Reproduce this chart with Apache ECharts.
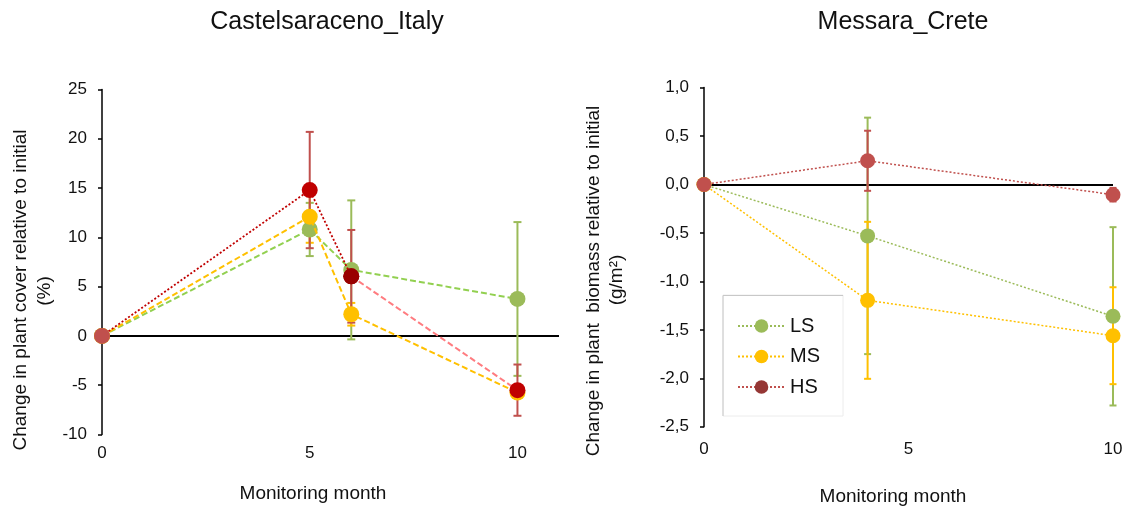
<!DOCTYPE html>
<html><head><meta charset="utf-8">
<script src="https://cdn.jsdelivr.net/npm/echarts@6/dist/echarts.min.js"></script>
<style>html,body{margin:0;padding:0;background:#fff}#c{width:1122px;height:508px}</style>
</head><body><div id="c"></div>
<script>
// ---------- data ----------
const coverMonths = [0, 5, 6, 10];
const coverLS = [0, 10.8, 6.7, 3.75];
const coverLSErr = [0, 2.7, 7.05, 7.8];
const coverMS = [0, 12.1, 2.2, -5.75];
const coverMSErr = [0, 2.65, 1.15, 0.4];
const coverHS = [0, 14.8, 6.05, -5.5];
const coverHSErr = [0, 5.9, 4.7, 2.6];

const biomassMonths = [0, 4, 10];
const biomassLS = [0, -0.53, -1.36];
const biomassLSErr = [0, 1.22, 0.92];
const biomassMS = [0, -1.195, -1.56];
const biomassMSErr = [0, 0.81, 0.5];
const biomassHS = [0, 0.245, -0.105];
const biomassHSErr = [0, 0.31, 0.07];

const xTickLabels = ['0', '5', '10'];
const seriesNames = ['LS', 'MS', 'HS'];
const titles = ['Castelsaraceno_Italy', 'Messara_Crete'];
const coverYName = ['Change in plant cover relative to initial', '(%)'];
const biomassYName = ['Change in plant  biomass relative to initial', '(g/m\u00B2)'];
const xName = 'Monitoring month';

// ---------- styles ----------
const FONT = '"Liberation Sans", Arial, sans-serif';
const TXT = '#111';
const C = { ls: '#9BBB59', lsLine: '#92D050', ms: '#FFC000', hs: '#C0504D',
  hsDark: '#C00000', hsDeep: '#990000', hsPink: '#FF7C80', hsLegend: '#953735' };
const hsCoverPointColors = [C.hs, C.hsDark, C.hsDeep, C.hsDark];

function pts(xs, ys) { return xs.map((x, i) => [x, ys[i]]); }
function errPts(xs, ys, es) {
  return xs.map((x, i) => [x, ys[i] - es[i], ys[i] + es[i]]).filter((d, i) => es[i] > 0);
}
function errSeries(gi, data, color, cap) {
  return {
    type: 'custom', xAxisIndex: gi, yAxisIndex: gi, data: data,
    encode: { x: 0, y: [1, 2] }, z: 1, silent: true, clip: false, animation: false,
    renderItem: function (params, api) {
      const x = api.value(0);
      const p1 = api.coord([x, api.value(2)]);
      const p2 = api.coord([x, api.value(1)]);
      const st = { stroke: color, lineWidth: 2 };
      return { type: 'group', children: [
        { type: 'line', shape: { x1: p1[0], y1: p1[1], x2: p2[0], y2: p2[1] }, style: st },
        { type: 'line', shape: { x1: p1[0] - cap, y1: p1[1], x2: p1[0] + cap, y2: p1[1] }, style: st },
        { type: 'line', shape: { x1: p2[0] - cap, y1: p2[1], x2: p2[0] + cap, y2: p2[1] }, style: st }
      ]};
    }
  };
}
function lineSeries(gi, name, data, lineColor, dash, width, markerColor, size, z) {
  return {
    type: 'line', name: name, xAxisIndex: gi, yAxisIndex: gi, data: data,
    symbol: 'circle', symbolSize: size, showSymbol: true, z: z, silent: true, animation: false,
    lineStyle: { color: lineColor, type: dash, width: width },
    itemStyle: { color: markerColor }
  };
}
function zeroLine(gi) {
  return {
    type: 'line', xAxisIndex: gi, yAxisIndex: gi, data: [], z: 0, silent: true, animation: false,
    markLine: { silent: true, symbol: 'none', animation: false, z: 0, label: { show: false },
      lineStyle: { color: '#000', width: 2, type: 'solid' }, data: [{ yAxis: 0 }] }
  };
}
function colored(xs, ys, colors) {
  return xs.map((x, i) => ({ value: [x, ys[i]], itemStyle: { color: colors[i] } }));
}

const axisLabelBase = { fontSize: 17, color: TXT, fontFamily: FONT };

const hsIdxA = [0, 1, 2], hsIdxB = [2, 3];
const hsA = colored(hsIdxA.map(i => coverMonths[i]), hsIdxA.map(i => coverHS[i]), hsIdxA.map(i => hsCoverPointColors[i]));
const hsB = colored(hsIdxB.map(i => coverMonths[i]), hsIdxB.map(i => coverHS[i]), hsIdxB.map(i => hsCoverPointColors[i]));

function text(x, y, str, size, rot) {
  return { type: 'text', x: x, y: y, rotation: rot || 0, silent: true,
    style: { text: str, font: size + 'px ' + FONT, fill: TXT,
      align: 'center', verticalAlign: 'middle', textAlign: 'center', textVerticalAlign: 'middle' } };
}

const option = {
  backgroundColor: '#fff',
  animation: false,
  grid: [
    { left: 102, top: 89.5, width: 457, height: 345, outerBoundsMode: 'none', containLabel: false },
    { left: 704, top: 87.6, width: 409, height: 339.2, outerBoundsMode: 'none', containLabel: false }
  ],
  xAxis: [
    { gridIndex: 0, type: 'value', min: 0, max: 11, interval: 5,
      axisLine: { show: false }, axisTick: { show: false }, splitLine: { show: false },
      axisLabel: Object.assign({ margin: 10, formatter: v => xTickLabels[xTickLabels.indexOf(String(v))] || '' }, axisLabelBase) },
    { gridIndex: 1, type: 'value', min: 0, max: 10, interval: 5,
      axisLine: { show: false }, axisTick: { show: false }, splitLine: { show: false },
      axisLabel: Object.assign({ margin: 14, formatter: v => xTickLabels[xTickLabels.indexOf(String(v))] || '' }, axisLabelBase) }
  ],
  yAxis: [
    { gridIndex: 0, type: 'value', min: -10, max: 25, interval: 5,
      axisLine: { show: true, onZero: false, lineStyle: { color: '#000', width: 1.5 } },
      axisTick: { show: true, length: 4, lineStyle: { color: '#000', width: 1.5 } },
      splitLine: { show: false },
      axisLabel: Object.assign({ margin: 15 }, axisLabelBase) },
    { gridIndex: 1, type: 'value', min: -2.5, max: 1, interval: 0.5,
      axisLine: { show: true, onZero: false, lineStyle: { color: '#000', width: 1.5 } },
      axisTick: { show: true, length: 4, lineStyle: { color: '#000', width: 1.5 } },
      splitLine: { show: false },
      axisLabel: Object.assign({ margin: 15, formatter: v => v.toFixed(1).replace('.', ',') }, axisLabelBase) }
  ],
  legend: {
    show: true, orient: 'vertical', left: 737, top: 316, padding: 0, z: 10,
    itemWidth: 47, itemHeight: 17, itemGap: 10.5, selectedMode: false,
    textStyle: { fontSize: 20, color: TXT, fontFamily: FONT },
    data: [
      { name: seriesNames[0] },
      { name: seriesNames[1] },
      { name: seriesNames[2], itemStyle: { color: C.hsLegend } }
    ]
  },
  graphic: [
    { type: 'rect', shape: { x: 723, y: 295, width: 120, height: 121 }, silent: true, z: -1,
      style: { fill: null, stroke: '#ececec', lineWidth: 1 } },
    { type: 'polyline', shape: { points: [[723, 416], [723, 295.5], [843, 295.5]] }, silent: true, z: -1,
      style: { stroke: '#c8c8c8', lineWidth: 1, fill: null } },
    text(327, 22, titles[0], 25),
    text(903, 22, titles[1], 25),
    text(21, 290, coverYName[0], 19, Math.PI / 2),
    text(45, 291, coverYName[1], 19, Math.PI / 2),
    text(594, 281, biomassYName[0], 19, Math.PI / 2),
    text(617, 280, biomassYName[1], 19, Math.PI / 2),
    text(313, 494, xName, 19),
    text(893, 497, xName, 19)
  ],
  series: [
    zeroLine(0),
    errSeries(0, errPts(coverMonths, coverLS, coverLSErr), C.ls, 4),
    errSeries(0, errPts(coverMonths, coverMS, coverMSErr), C.ms, 4),
    errSeries(0, errPts(coverMonths, coverHS, coverHSErr), C.hs, 4),
    lineSeries(0, 'LS cover', pts(coverMonths, coverLS), C.lsLine, [6, 3], 2, C.ls, 16, 3),
    lineSeries(0, 'MS cover', pts(coverMonths, coverMS), C.ms, [6, 3], 2, C.ms, 16, 4),
    lineSeries(0, 'HS cover a', hsA, C.hsDark, [2, 2], 1.8, C.hsDark, 16, 6),
    lineSeries(0, 'HS cover b', hsB, C.hsPink, [6, 3], 2, C.hsDark, 16, 5),

    zeroLine(1),
    errSeries(1, errPts(biomassMonths, biomassLS, biomassLSErr), C.ls, 3.5),
    errSeries(1, errPts(biomassMonths, biomassMS, biomassMSErr), C.ms, 3.5),
    errSeries(1, errPts(biomassMonths, biomassHS, biomassHSErr), C.hs, 3.5),
    lineSeries(1, seriesNames[0], pts(biomassMonths, biomassLS), C.ls, [2, 2], 1.5, C.ls, 15, 3),
    lineSeries(1, seriesNames[1], pts(biomassMonths, biomassMS), C.ms, [2, 2], 1.5, C.ms, 15, 4),
    lineSeries(1, seriesNames[2], pts(biomassMonths, biomassHS), C.hs, [2, 2], 1.5, C.hs, 15, 5)
  ]
};

const chart = echarts.init(document.getElementById('c'), null, { renderer: 'canvas' });
chart.setOption(option);
</script>
</body></html>
